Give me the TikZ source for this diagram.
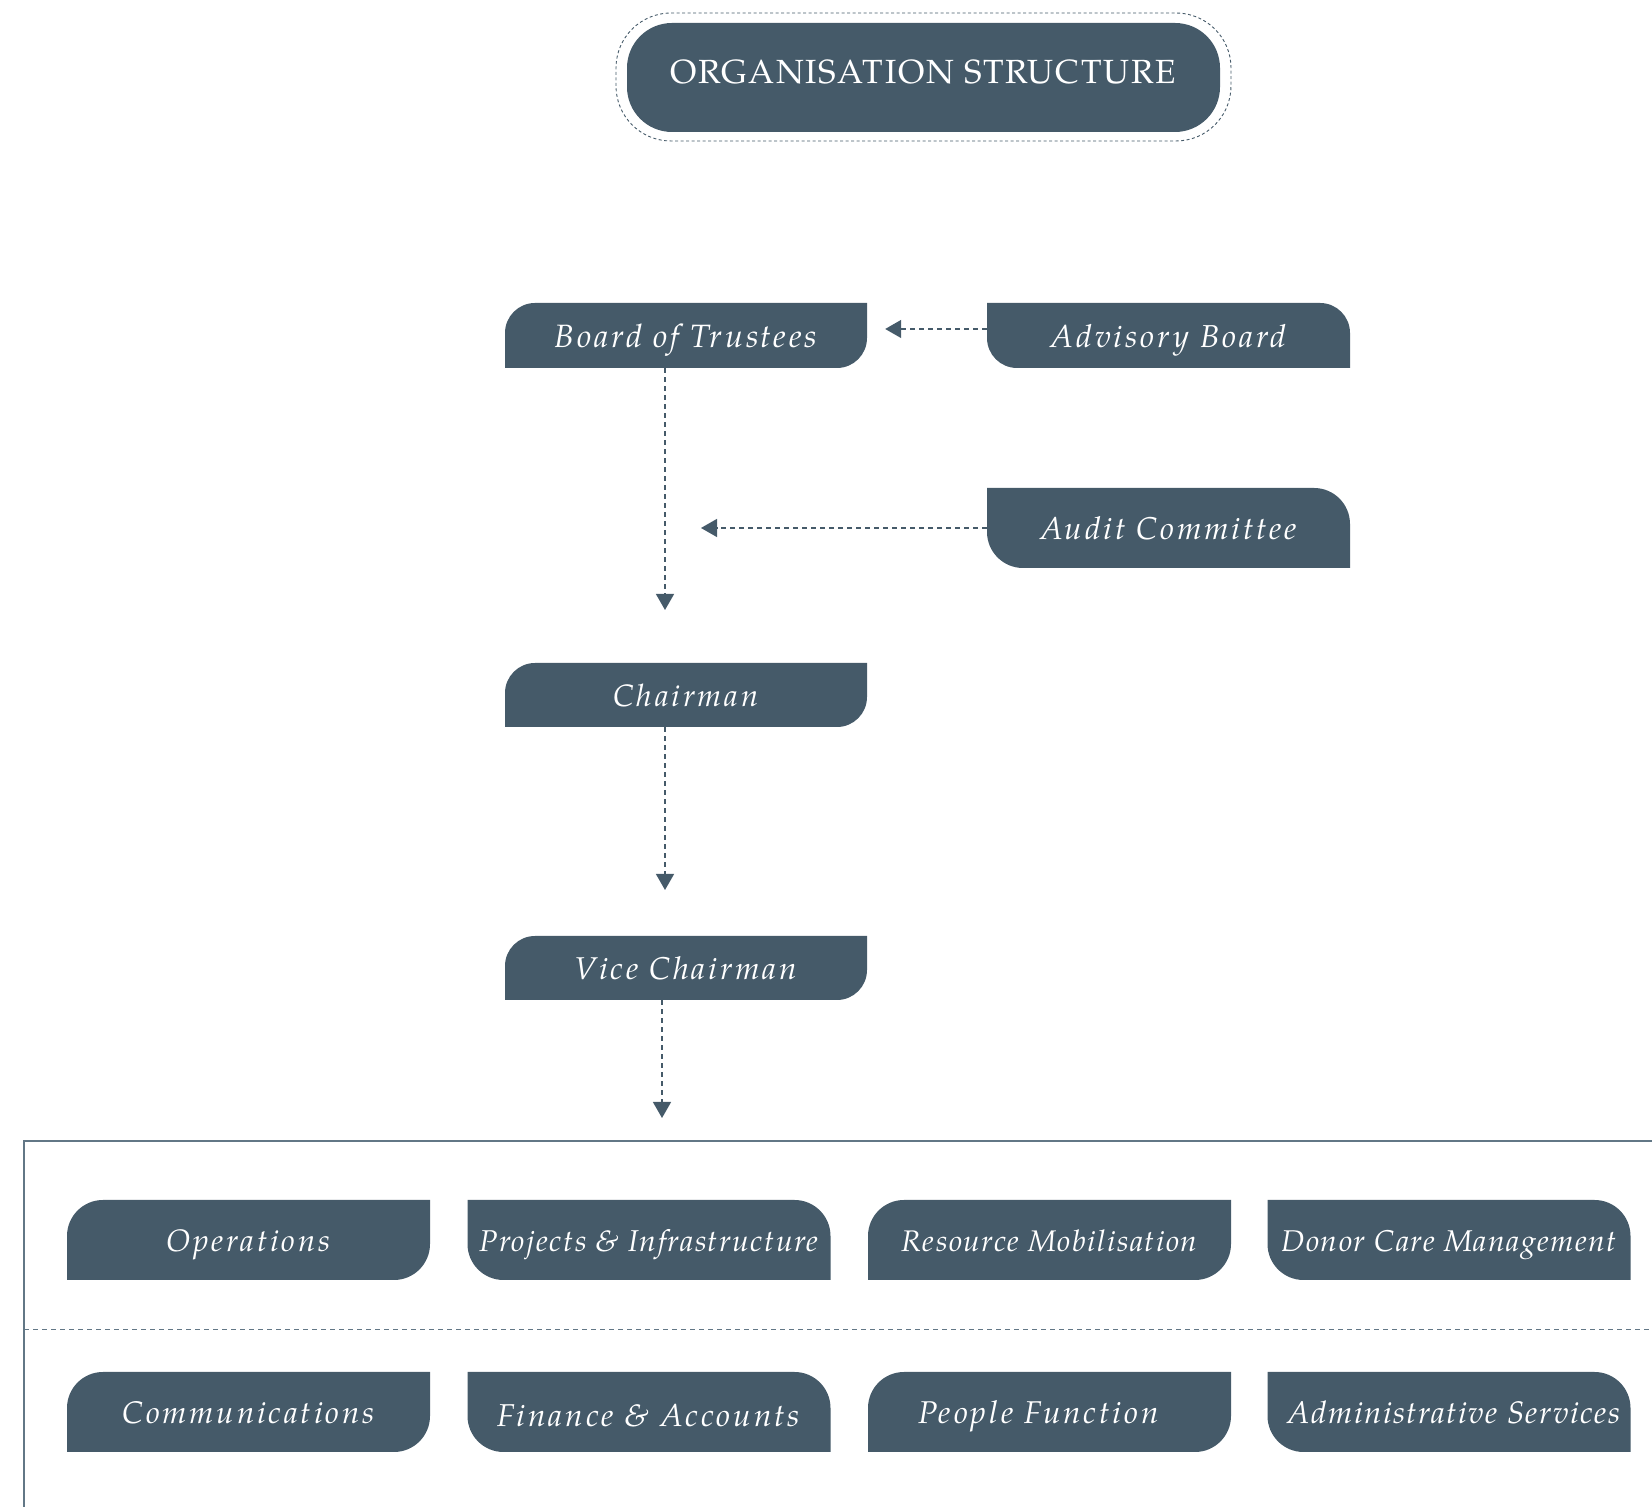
\documentclass[tikz,border=0pt]{standalone}
\usepackage{fontspec}
\setmainfont{texgyrepagella}[Extension=.otf,UprightFont=*-regular,ItalicFont=*-italic,BoldFont=*-bold,BoldItalicFont=*-bolditalic]
\usetikzlibrary{arrows.meta}
\definecolor{boxcol}{HTML}{455A69}
\definecolor{linecol}{HTML}{627786}
\tikzset{
  lbl/.style={text=white,inner sep=0pt,align=center,text height=24pt,text depth=0pt},
  toplbl/.style={lbl,font=\fontsize{#1}{36}\selectfont\itshape\addfontfeatures{LetterSpace=9}},
  rowlbl/.style 2 args={lbl,font=\fontsize{#1}{34}\selectfont\itshape\addfontfeatures{LetterSpace=#2}},
  conn/.style={draw=boxcol,line width=1.3pt,dash pattern=on 5pt off 4pt,-{Triangle[width=18pt,length=16pt]}},
}
% type A: top-left and bottom-right rounded
\newcommand{\boxA}[8]{%
  \fill[boxcol] ({#2-#4/2},{#3-#5/2}) -- ({#2-#4/2},{#3+#5/2-#6}) arc[start angle=180,end angle=90,radius=#6pt]
    -- ({#2+#4/2},{#3+#5/2}) -- ({#2+#4/2},{#3-#5/2+#6}) arc[start angle=0,end angle=-90,radius=#6pt] -- cycle;
  \node[#7,minimum width=#4pt,minimum height=#5pt] (#1) at (#2,#3) {#8};}
% type B: top-right and bottom-left rounded
\newcommand{\boxB}[8]{%
  \fill[boxcol] ({#2-#4/2+#6},{#3-#5/2}) arc[start angle=270,end angle=180,radius=#6pt] -- ({#2-#4/2},{#3+#5/2})
    -- ({#2+#4/2-#6},{#3+#5/2}) arc[start angle=90,end angle=0,radius=#6pt] -- ({#2+#4/2},{#3-#5/2}) -- cycle;
  \node[#7,minimum width=#4pt,minimum height=#5pt] (#1) at (#2,#3) {#8};}
\begin{document}
\begin{tikzpicture}[x=1pt,y=1pt]
\useasboundingbox (0,0) rectangle (1652,1507);
% title
\draw[boxcol,line width=0.9pt,dash pattern=on 3pt off 2.5pt,rounded corners=55pt] (616,1366) rectangle (1231,1494);
\node[fill=boxcol,rounded corners=45pt,minimum width=593pt,minimum height=109pt,inner sep=0pt,text=white,
  text height=23pt,text depth=10pt,
  font=\fontsize{33.5}{38}\selectfont\addfontfeatures{LetterSpace=5.5}] (title) at (923.5,1429.5) {ORGANISATION STRUCTURE};
% upper chain
\boxA{bot}{686}{1171.5}{362}{65}{30}{toplbl=32.3}{Board of Trustees}
\boxB{adv}{1168.5}{1171.5}{363}{65}{30}{toplbl=31.7}{Advisory Board}
\boxB{aud}{1168.5}{979}{363}{80}{36}{toplbl=31.5}{Audit Committee}
\boxA{chair}{686}{812}{362}{64}{30}{toplbl=30.9}{Chairman}
\boxA{vice}{686}{539}{362}{64}{30}{toplbl=31.5}{Vice Chairman}
\coordinate (audtip) at (701,979);
\coordinate (chtip) at (665,897);
\coordinate (vctip) at (665,617);
\coordinate (dptip) at (662,389);
\draw[conn,shorten >=18pt] ([yshift=6.5pt]adv.west) -- ([yshift=6.5pt]bot.east);
\draw[conn] (aud.west) -- (audtip);
\draw[conn] (bot.south -| chtip) -- (chtip);
\draw[conn] (chair.south -| vctip) -- (vctip);
\draw[conn] (vice.south -| dptip) -- (dptip);
% department container
\coordinate (ctl) at (24,366);
\draw[linecol,line width=1.2pt] (1652,366) -- (ctl) -- (24,0);
\draw[linecol,line width=1pt,dash pattern=on 5pt off 4pt] (24,177) -- (1652,177);
% departments
\boxA{ops}{248.5}{267}{363}{80}{36}{rowlbl={31}{9}}{Operations}
\boxB{proj}{649}{267}{363}{80}{36}{rowlbl={30.1}{5}}{Projects \& Infrastructure}
\boxA{res}{1049.5}{267}{363}{80}{36}{rowlbl={29.8}{5}}{Resource Mobilisation}
\boxB{don}{1449}{267}{363}{80}{36}{rowlbl={30}{5}}{Donor Care Management}
\boxA{com}{248.5}{95}{363}{80}{36}{rowlbl={31.2}{9}}{Communications}
\boxB{fin}{649}{95}{363}{80}{36}{rowlbl={31.6}{9},yshift=-3pt}{Finance \& Accounts}
\boxA{ppl}{1049.5}{95}{363}{80}{36}{rowlbl={31.5}{9},xshift=-11pt}{People Function}
\boxB{adm}{1449}{95}{363}{80}{36}{rowlbl={31.1}{5},xshift=5pt}{Administrative Services}
\end{tikzpicture}
\end{document}
